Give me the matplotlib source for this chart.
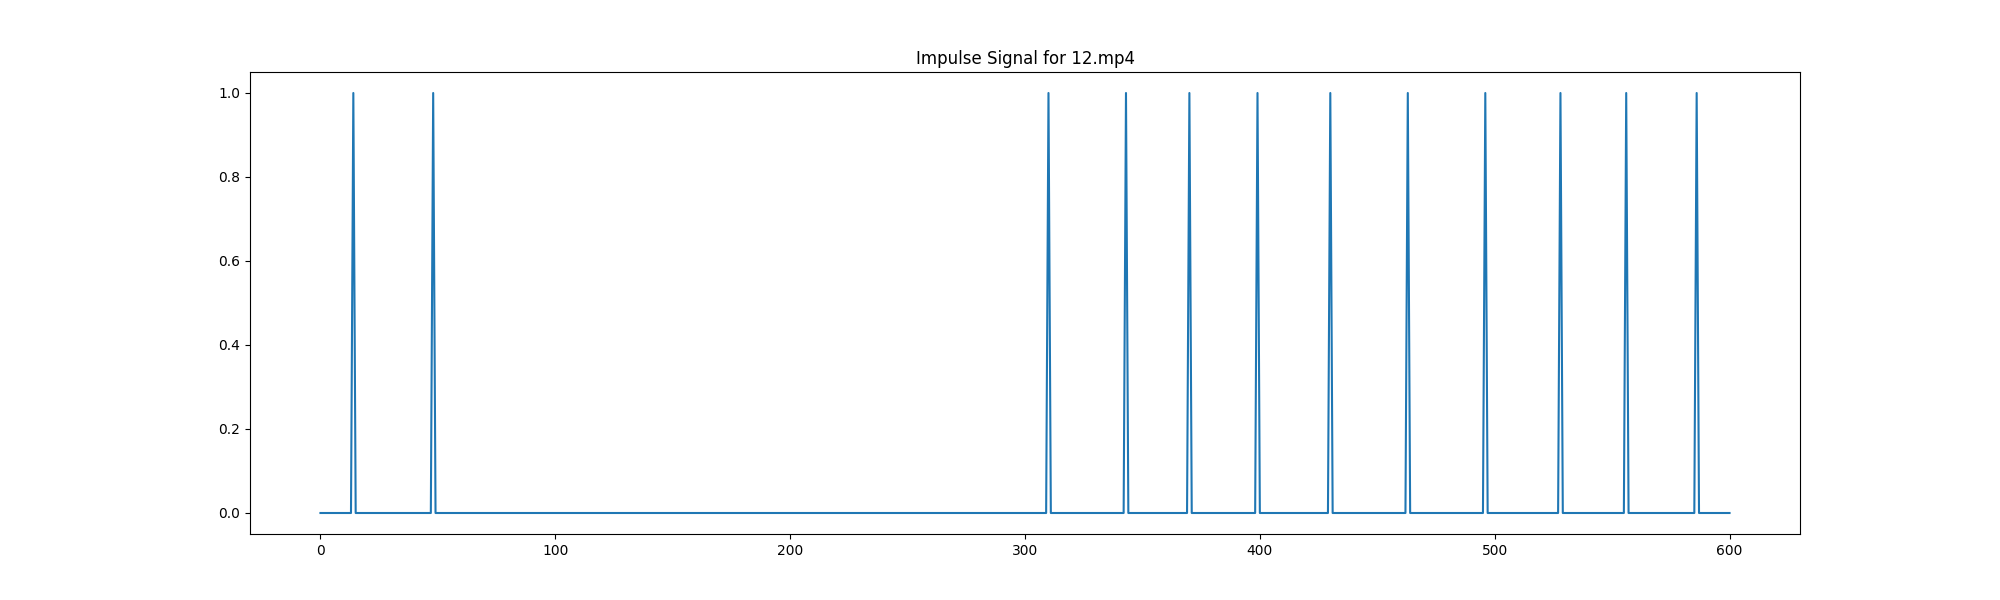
import numpy as np
from matplotlib import pyplot as plt

n_frames = 601
impulse_frames = [14, 48, 310, 343, 370, 399, 430, 463, 496, 528, 556, 586]

signal = np.zeros(n_frames)
signal[impulse_frames] = 1

plt.figure(figsize=(20, 6))
plt.plot(signal)
plt.title("Impulse Signal for 12.mp4")

plt.savefig("out.png", dpi=100)
